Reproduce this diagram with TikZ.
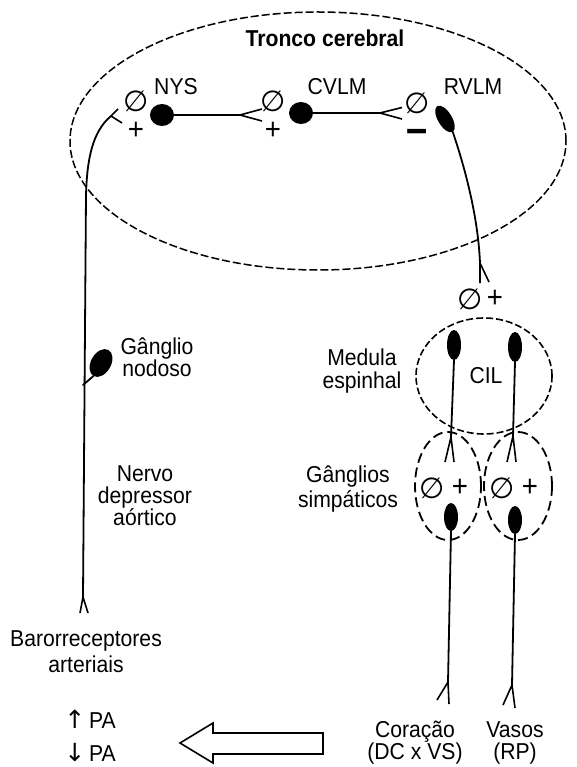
\documentclass[tikz,border=0pt]{standalone}
\usepackage{fontspec}
\setmainfont{Liberation Sans}[FakeStretch=0.92]
\newfontfamily\symfont{DejaVu Sans}
\newcommand\arrfont{\symfont\fontsize{25}{25}\selectfont}
\usetikzlibrary{shapes.geometric}
\begin{document}
\begin{tikzpicture}[x=1pt,y=-1pt,
  every node/.style={inner sep=0pt,outer sep=0pt},
  txt/.style={font=\fontsize{23}{22}\selectfont, align=center},
  btxt/.style={font=\fontsize{23}{22}\selectfont\bfseries},
  sym/.style={font=\symfont\fontsize{29}{29}\selectfont},
  pm/.style={font=\fontsize{30}{30}\selectfont},
  soma/.style={ellipse, fill=black, draw=none},
  fibre/.style={line width=1.8pt, line cap=round, line join=round},
  arm/.style={line width=1.6pt, line cap=butt},
  region/.style={ellipse, draw, line width=1.5pt, dash pattern=on 8pt off 3pt},
  sregion/.style={ellipse, draw, line width=1.8pt, dash pattern=on 10pt off 5pt}]
\useasboundingbox (0,0) rectangle (577,767);

% regions
\node[region, minimum width=496pt, minimum height=258pt] (tronco) at (318,141) {};
\node[region, line width=1.6pt, dash pattern=on 7pt off 3pt, minimum width=136pt, minimum height=116pt] (cil) at (484,376) {};
\node[sregion, minimum width=66pt, minimum height=108pt] (gl) at (448,486) {};
\node[sregion, minimum width=68pt, minimum height=108pt] (gr) at (518,486) {};

% somas
\node[soma, minimum width=24pt, minimum height=22pt] (nys) at (162,115) {};
\node[soma, minimum width=24pt, minimum height=22pt] (cvlm) at (301,113) {};
\node[soma, minimum width=30pt, minimum height=14pt, rotate=-59] (rvlm) at (445,119) {};
\node[soma, minimum width=30pt, minimum height=20pt, rotate=60] (nod) at (101,363) {};
\node[soma, minimum width=14pt, minimum height=30pt] (c1) at (454,345) {};
\node[soma, minimum width=14pt, minimum height=30pt] (c2) at (515,347) {};
\node[soma, minimum width=14pt, minimum height=28pt] (g1) at (451,517) {};
\node[soma, minimum width=14pt, minimum height=28pt] (g2) at (515,520) {};

% terminal coordinates
\coordinate (t1) at (240,115);
\coordinate (t2) at (380,113);
\coordinate (t3) at (480,263);
\coordinate (ta) at (111,116);
\coordinate (tb) at (83,597);
\coordinate (t4) at (451,437);
\coordinate (t5) at (513,436);
\coordinate (t6) at (448,682);
\coordinate (t7) at (512,685);

% axons
\draw[fibre] (nys.east) -- (t1);
\draw[arm] (t1) -- (262,109) (t1) -- (262,121);
\draw[fibre] (cvlm.east) -- (t2);
\draw[arm] (t2) -- (402,107.5) (t2) -- (402,119);
\draw[fibre] (rvlm.east) .. controls (464,165) and (478,215) .. (t3);
\draw[arm] (t3) -- (480,283) (t3) -- (489,282);
\draw[fibre] (tb) -- (86,195) .. controls (87,160) and (92,132) .. (ta);
\draw[arm] (ta) -- (118,109) (ta) -- (122,123);
\draw[arm] (tb) -- (80,613) (tb) -- (88,613);
\draw[fibre] (83,385) -- (nod.west);
\draw[fibre] (c1.south) -- (t4);
\draw[arm] (t4) -- (445,462) (t4) -- (454,462);
\draw[fibre] (c2.south) -- (t5);
\draw[arm] (t5) -- (507,462) (t5) -- (516,462);
\draw[fibre] (g1.south) -- (t6);
\draw[arm] (t6) -- (437,700) (t6) -- (449,704);
\draw[fibre] (g2.south) -- (t7);
\draw[arm] (t7) -- (503,705) (t7) -- (515,708);

% big arrow
\draw[line width=1.6pt, line join=miter] (180,743) -- (213,723) -- (213,733) -- (323,733) -- (323,754) -- (213,754) -- (213,763) -- cycle;

% labels
\node[btxt, anchor=base] (tcl) at (325,46.5) {Tronco cerebral};
\node[txt, anchor=base] (nysl) at (176,95) {NYS};
\node[txt, anchor=base] (cvlml) at (337,95) {CVLM};
\node[txt, anchor=base] (rvlml) at (473,95) {RVLM};
\node[txt, anchor=base] (cill) at (486,383) {CIL};

\node[sym] (e1) at (136,101) {∅};
\node[sym] (e2) at (273,101) {∅};
\node[sym] (e3) at (417,103) {∅};
\node[sym] (e4) at (470,299) {∅};
\node[sym] (e5) at (432,488) {∅};
\node[sym] (e6) at (502,488) {∅};
\node[pm] (p1) at (136,131) {+};
\node[pm] (p2) at (273,131) {+};
\node[pm] (p4) at (495,299) {+};
\node[pm] (p5) at (460,488) {+};
\node[pm] (p6) at (530,488) {+};
\node[font=\symfont\bfseries\fontsize{20}{20}\selectfont] (m3) at (417,136) {\scalebox{1.5}[1.9]{−}};

\node[txt] (nodl) at (157,357.4) {Gânglio\\nodoso};
\node[txt] (nerv) at (145,495.8) {Nervo\\depressor\\aórtico};
\node[txt, font=\fontsize{23}{26}\selectfont] (baro) at (86,651.5) {Barorreceptores\\arteriais};
\node[txt, font=\fontsize{23}{23}\selectfont] (med) at (362,370.7) {Medula\\espinhal};
\node[txt, font=\fontsize{23}{25}\selectfont] (gsl) at (348,489.3) {Gânglios\\simpáticos};
\node[txt] (cor) at (415,742.2) {Coração\\(DC x VS)};
\node[txt] (vas) at (515,742.6) {Vasos\\(RP)};
\node[txt, anchor=base] (up) at (90,728) {{\arrfont ↑}\,PA};
\node[txt, anchor=base] (dn) at (90,761) {{\arrfont ↓}\,PA};
\end{tikzpicture}
\end{document}
